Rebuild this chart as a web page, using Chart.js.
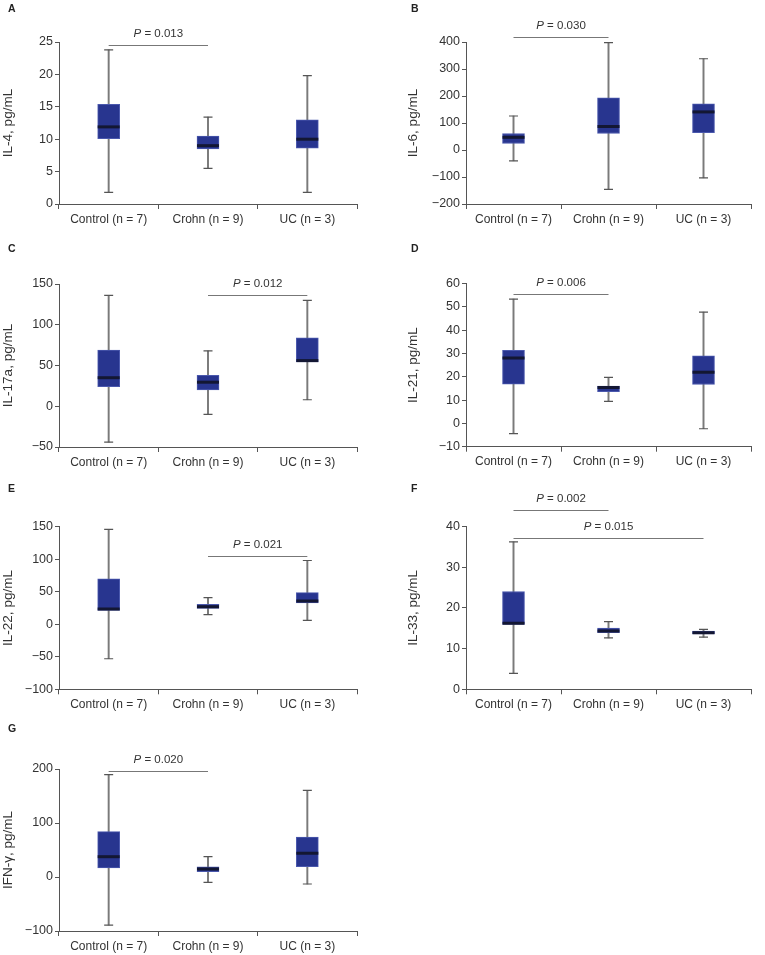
<!DOCTYPE html>
<html><head><meta charset="utf-8">
<script src="https://cdn.jsdelivr.net/npm/chart.js@4"></script>
<style>
body{margin:0;background:#fff;width:765px;height:955px;overflow:hidden;position:relative;font-family:"Liberation Sans",Arial,sans-serif;}
.panel{position:absolute;}
.letter{position:absolute;font-weight:bold;font-size:10.5px;color:#222;line-height:1;}
</style></head><body>
<script>
// ---------- data ----------
const categories = ['Control (n = 7)', 'Crohn (n = 9)', 'UC (n = 3)'];
const panelLetters = ['A', 'B', 'C', 'D', 'E', 'F', 'G'];
const yTitles = ['IL-4, pg/mL', 'IL-6, pg/mL', 'IL-17a, pg/mL', 'IL-21, pg/mL', 'IL-22, pg/mL', 'IL-33, pg/mL', 'IFN-\u03B3, pg/mL'];
// five-number summaries per group: [min, q1, median, q3, max]
const il4   = [[1.8, 10.1, 11.9, 15.4, 23.8], [5.5, 8.5, 9.0, 10.5, 13.4], [1.8, 8.6, 10.0, 13.0, 19.8]];
const il6   = [[-40, 24, 47, 61, 126], [-146, 61, 87, 193, 398], [-103, 64, 141, 171, 338]];
const il17a = [[-44, 24, 35, 69, 136], [-10, 20, 29.5, 38, 68], [8, 54.5, 56, 84, 130]];
const il21  = [[-4.4, 16.9, 28.1, 31.4, 53.4], [9.5, 13.6, 15.4, 16.0, 19.8], [-2.3, 16.7, 22.0, 29.0, 47.8]];
const il22  = [[-53, 21.4, 23.5, 70, 146], [14.8, 24.5, 27, 30.6, 41], [6, 33, 35.8, 48.6, 98]];
const il33  = [[3.9, 15.9, 16.2, 24.0, 36.2], [12.6, 13.9, 14.3, 15.0, 16.6], [12.8, 13.6, 13.9, 14.3, 14.7]];
const ifng  = [[-89, 16.7, 37.6, 84, 189.5], [-10, 9.9, 14.8, 19, 37.6], [-13, 19, 44, 74, 160.5]];
// y-axis ticks: [min, max, step]
const yTicks = [[0, 25, 5], [-200, 400, 100], [-50, 150, 50], [-10, 60, 10], [-100, 150, 50], [0, 40, 10], [-100, 200, 100]];
// significance bars: [fromGroup, toGroup, yValue, P label]
const pA = [[0, 1, 24.5, '0.013']];
const pB = [[0, 1, 417, '0.030']];
const pC = [[1, 2, 136, '0.012']];
const pD = [[0, 1, 55.4, '0.006']];
const pE = [[1, 2, 105, '0.021']];
const pF = [[0, 1, 43.9, '0.002'], [0, 2, 37.2, '0.015']];
const pG = [[0, 1, 197, '0.020']];

const stats = [il4, il6, il17a, il21, il22, il33, ifng];
const pvals = [pA, pB, pC, pD, pE, pF, pG];

// ---------- layout (page placement of each panel) ----------
const layout = [
  {x: 0,   y: 0,   w: 380, padL: 0,  yW: 59, padR: 23, top: 42,   xH: 36},
  {x: 380, y: 0,   w: 385, padL: 25, yW: 61, padR: 2,  top: 42,   xH: 36},
  {x: 0,   y: 240, w: 380, padL: 0,  yW: 59, padR: 23, top: 44,   xH: 33},
  {x: 380, y: 240, w: 385, padL: 25, yW: 61, padR: 2,  top: 43.7, xH: 33.3},
  {x: 0,   y: 480, w: 380, padL: 0,  yW: 59, padR: 23, top: 46.7, xH: 30.7},
  {x: 380, y: 480, w: 385, padL: 25, yW: 61, padR: 2,  top: 46.3, xH: 30.7},
  {x: 0,   y: 720, w: 380, padL: 0,  yW: 59, padR: 23, top: 49,   xH: 29}
];
const H = 240;
const FONT = '"Liberation Sans", Arial, sans-serif';

const pPlugin = {
  id: 'pvals',
  afterDatasetsDraw(chart, args, opts) {
    const {ctx} = chart;
    const xs = chart.scales.x, ys = chart.scales.y;
    (opts.items || []).forEach(([from, to, val, label]) => {
      const x1 = xs.getPixelForValue(from), x2 = xs.getPixelForValue(to);
      const y = Math.round(ys.getPixelForValue(val)) + 0.5;
      ctx.save();
      ctx.strokeStyle = '#777'; ctx.lineWidth = 1;
      ctx.beginPath(); ctx.moveTo(x1, y); ctx.lineTo(x2, y); ctx.stroke();
      const f1 = 'italic 11.5px ' + FONT, f2 = '11.5px ' + FONT;
      const t2 = ' = ' + label;
      ctx.font = f1; const w1 = ctx.measureText('P').width;
      ctx.font = f2; const w2 = ctx.measureText(t2).width;
      const x0 = (x1 + x2) / 2 - (w1 + w2) / 2;
      ctx.fillStyle = '#333'; ctx.textBaseline = 'middle'; ctx.textAlign = 'left';
      ctx.font = f1; ctx.fillText('P', x0, y - 11.5);
      ctx.font = f2; ctx.fillText(t2, x0 + w1, y - 11.5);
      ctx.restore();
    });
  }
};

stats.forEach((s, i) => {
  const L = layout[i];
  const div = document.createElement('div');
  div.className = 'panel';
  div.style.left = L.x + 'px'; div.style.top = L.y + 'px';
  div.style.width = L.w + 'px'; div.style.height = H + 'px';
  const cv = document.createElement('canvas');
  cv.width = L.w; cv.height = H;
  cv.style.width = L.w + 'px'; cv.style.height = H + 'px';
  div.appendChild(cv);
  const let_ = document.createElement('div');
  let_.className = 'letter';
  let_.textContent = panelLetters[i];
  let_.style.left = (i % 2 === 0 ? 8 : 31) + 'px';
  let_.style.top = '3px';
  div.appendChild(let_);
  document.body.appendChild(div);

  const [ymin, ymax, ystep] = yTicks[i];
  new Chart(cv, {
    data: {
      labels: categories,
      datasets: [
        {type: 'bar', data: s.map(v => [v[0], v[4]]), backgroundColor: '#7a7a7a', barThickness: 1.3, grouped: false, order: 4},
        {type: 'bar', data: s.map(v => [v[1], v[3]]), backgroundColor: '#28358f', borderColor: '#4a58ad', borderWidth: 1, borderSkipped: false, barThickness: 22, grouped: false, order: 3},
        {type: 'line', data: s.map(v => v[4]), showLine: false, pointStyle: 'line', pointRadius: 4.5, pointBorderColor: '#555', borderColor: '#555', pointBorderWidth: 1.2, order: 2},
        {type: 'line', data: s.map(v => v[0]), showLine: false, pointStyle: 'line', pointRadius: 4.5, pointBorderColor: '#555', borderColor: '#555', pointBorderWidth: 1.2, order: 2},
        {type: 'line', data: s.map(v => v[2]), showLine: false, pointStyle: 'line', pointRadius: 11, pointBorderColor: '#131733', borderColor: '#131733', pointBorderWidth: 3, order: 1}
      ]
    },
    options: {
      responsive: false,
      animation: false,
      events: [],
      layout: {padding: {left: L.padL, right: L.padR, top: L.top, bottom: 0}},
      plugins: {legend: {display: false}, tooltip: {enabled: false}, pvals: {items: pvals[i]}},
      scales: {
        x: {
          type: 'category', offset: true,
          grid: {display: true, drawOnChartArea: false, tickLength: 5, color: '#555', offset: true},
          border: {display: true, color: '#555', width: 1},
          ticks: {color: '#333', font: {family: FONT, size: 12}, maxRotation: 0, autoSkip: false, padding: 3},
          afterFit(sc) { sc.height = L.xH; }
        },
        y: {
          min: ymin, max: ymax,
          ticks: {stepSize: ystep, color: '#333', font: {family: FONT, size: 12.5}, padding: 2,
                  callback: v => String(v).replace('-', '\u2212')},
          grid: {display: true, drawOnChartArea: false, tickLength: 4, color: '#555'},
          border: {display: true, color: '#555', width: 1},
          title: {display: true, text: yTitles[i], color: '#333', font: {family: FONT, size: 13.5}, padding: 0},
          afterFit(sc) { sc.width = L.yW; }
        }
      }
    },
    plugins: [pPlugin]
  });
});
</script>
</body></html>
